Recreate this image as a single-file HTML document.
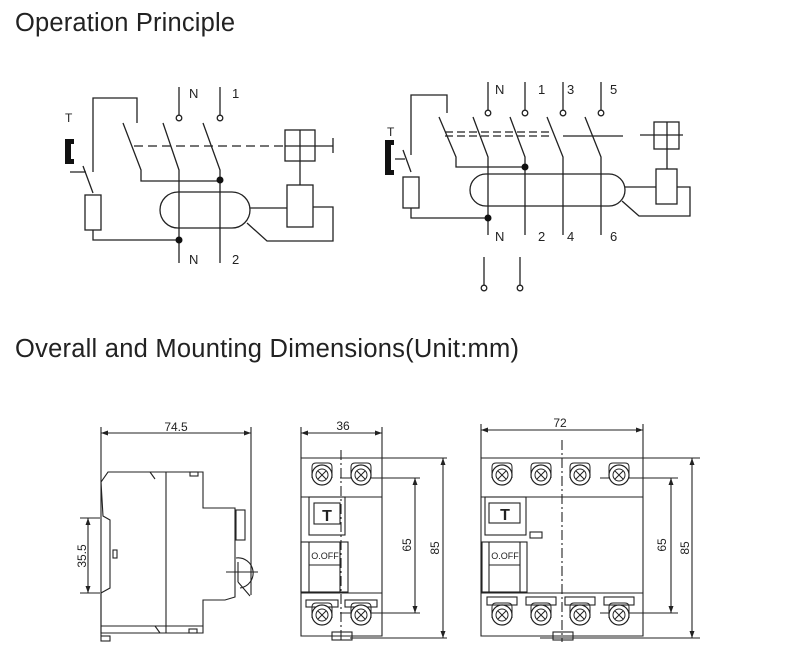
<!DOCTYPE html>
<html><head><meta charset="utf-8"><style>
html,body{margin:0;padding:0;background:#fff;}
svg{display:block;}
text{font-family:"Liberation Sans",sans-serif;fill:#222;}
</style></head><body>
<svg width="791" height="662" viewBox="0 0 791 662" xmlns="http://www.w3.org/2000/svg">
<defs>
<g id="scr"><path d="M-10,3V-8Q-10,-12 -6,-12H6Q10,-12 10,-8V3" fill="none" stroke="#222" stroke-width="1"/><circle r="10" fill="#fff" stroke="#222" stroke-width="1.2"/><circle r="6" fill="none" stroke="#222" stroke-width="1"/><path d="M-4,-4L4,4M-4,4L4,-4" stroke="#222" stroke-width="1"/></g>
<g id="term"><path d="M0,0V28" stroke="#222" stroke-width="1.3"/><circle cx="0" cy="31" r="2.8" fill="#fff" stroke="#222" stroke-width="1.3"/></g>
</defs>
<text x="15" y="31" font-size="25.5" fill="#333" textLength="220">Operation Principle</text>
<text x="15" y="357" font-size="25.5" fill="#333" textLength="504">Overall and Mounting Dimensions(Unit:mm)</text>

<!-- Circuit 1 -->
<g fill="none" stroke="#222" stroke-width="1.3">
<path d="M93,172V98H137V123"/>
<path d="M70,172H86M83,166L93,193"/>
<rect x="85" y="195" width="16" height="35"/>
<path d="M93,230V240H179"/>
<path d="M123,123L141,170V181H220"/>
<path d="M163,123L179,170V263"/>
<path d="M203,123L220,170V263"/>
<path d="M134,146H285" stroke-dasharray="9,5"/>
<rect x="285" y="130" width="30" height="31"/>
<path d="M300,130V185M285,146H333M333,138V153"/>
<rect x="287" y="185" width="26" height="42"/>
<path d="M178,192H232A18,18 0 0 1 232,228H178A18,18 0 0 1 178,192Z"/>
<path d="M250,208H287M313,207H333V241H267L247,223"/>
</g>
<path d="M65,139H74V144H71V159H74V164H65Z" fill="#111"/>
<text x="65" y="122" font-size="12">T</text>
<circle cx="220" cy="180" r="3.5" fill="#111"/><circle cx="179" cy="240" r="3.5" fill="#111"/>
<use href="#term" x="179" y="87"/><use href="#term" x="220" y="87"/>
<text x="189" y="98" font-size="13">N</text><text x="232" y="98" font-size="13">1</text>
<text x="189" y="264" font-size="13">N</text><text x="232" y="264" font-size="13">2</text>

<!-- Circuit 2 -->
<g fill="none" stroke="#222" stroke-width="1.3">
<path d="M411,155V95H447V113"/>
<path d="M395,159H405M403,150L411,172"/>
<rect x="403" y="177" width="16" height="31"/>
<path d="M411,208V218H488"/>
<path d="M439,117L456,157V167H525"/>
<path d="M473,117L488,157V235"/>
<path d="M510,117L525,157V235"/>
<path d="M547,117L563,157V235"/>
<path d="M585,117L601,157V235"/>
<path d="M445,132H553M445,136H553" stroke-dasharray="8,4"/>
<path d="M563,136H623M640,135H683"/>
<rect x="654" y="122" width="25" height="27"/>
<path d="M667,122V169"/>
<rect x="656" y="169" width="21" height="35"/>
<path d="M486,174H609A16,16 0 0 1 609,206H486A16,16 0 0 1 486,174Z"/>
<path d="M625,187H656M677,187H690V216H639L622,201"/>
</g>
<path d="M385,140H394V145H391V170H394V175H385Z" fill="#111"/>
<text x="387" y="136" font-size="12">T</text>
<circle cx="525" cy="167" r="3.5" fill="#111"/><circle cx="488" cy="218" r="3.5" fill="#111"/>
<use href="#term" x="488" y="82"/><use href="#term" x="525" y="82"/><use href="#term" x="563" y="82"/><use href="#term" x="601" y="82"/>
<text x="495" y="94" font-size="13">N</text><text x="538" y="94" font-size="13">1</text><text x="567" y="94" font-size="13">3</text><text x="610" y="94" font-size="13">5</text>
<text x="495" y="241" font-size="13">N</text><text x="538" y="241" font-size="13">2</text><text x="567" y="241" font-size="13">4</text><text x="610" y="241" font-size="13">6</text>
<use href="#term" x="484" y="257"/><use href="#term" x="520" y="257"/>

<!-- Side view -->
<g fill="none" stroke="#222" stroke-width="1.1">
<path d="M101,427V636M251,427V595M101,433H251"/>
<path d="M108,472H203V508H235V597L225,600H203V633H101V593L110,588V520L103,516L101,482Z"/>
<path d="M166,472V633M101,626H203M150,472L155,479M155,626L160,633"/>
<rect x="190" y="472" width="8" height="4"/><rect x="189" y="629" width="8" height="4"/>
<rect x="236" y="510" width="9" height="30"/>
<path d="M236,558A14,14 0 0 1 240,588M226,572H258M238,562V582M238,582L250,596"/>
<path d="M88,518V593M80,518H100M80,593H100"/>
<rect x="113" y="550" width="4" height="8"/><rect x="101" y="636" width="9" height="5"/>
</g>
<path d="M101,433l7,-2.5v5zM251,433l-7,-2.5v5zM88,518l-2.5,7h5zM88,593l-2.5,-7h5z" fill="#222"/>
<text x="176" y="431" font-size="12" text-anchor="middle">74.5</text>
<text transform="translate(86,556) rotate(-90)" font-size="12" text-anchor="middle">35.5</text>

<!-- Middle view -->
<g fill="none" stroke="#222" stroke-width="1.1">
<path d="M301,427V458M382,427V458M301,433H382"/>
<path d="M301,458H382V636H301Z"/>
<path d="M301,497H382M301,593H382"/>
<path d="M382,458H447M340,478H420M340,613H420M350,638H447"/>
<path d="M415,478V613M443,458V638"/>
<path d="M341,450V642" stroke-dasharray="10,3,2,3"/>
<rect x="309" y="497" width="36" height="38"/><rect x="314" y="503" width="26" height="21"/>
<rect x="301" y="542" width="47" height="50"/><path d="M309,542V592M340,542V592M309,565H340"/>
<rect x="306" y="600" width="32" height="7"/><rect x="345" y="600" width="32" height="7"/>
<rect x="332" y="632" width="20" height="8"/>
</g>
<use href="#scr" x="322" y="475"/><use href="#scr" x="361" y="475"/>
<use href="#scr" x="322" y="615"/><use href="#scr" x="361" y="615"/>
<path d="M301,433l7,-2.5v5zM382,433l-7,-2.5v5zM415,478l-2.5,7h5zM415,613l-2.5,-7h5zM443,458l-2.5,7h5zM443,638l-2.5,-7h5z" fill="#222"/>
<text x="343" y="430" font-size="12" text-anchor="middle">36</text>
<text x="327" y="521" font-size="16" font-weight="bold" text-anchor="middle">T</text>
<text x="325" y="559" font-size="9" text-anchor="middle">O.OFF</text>
<text transform="translate(411,545) rotate(-90)" font-size="12" text-anchor="middle">65</text>
<text transform="translate(439,548) rotate(-90)" font-size="12" text-anchor="middle">85</text>

<!-- Right view -->
<g fill="none" stroke="#222" stroke-width="1.1">
<path d="M481,424V458M643,424V458M481,430H643"/>
<path d="M481,458H643V636H481Z"/>
<path d="M481,497H643M481,593H643"/>
<path d="M643,458H700M600,478H678M600,613H678M540,638H700"/>
<path d="M671,478V613M692,458V638"/>
<path d="M562,440V642" stroke-dasharray="10,3,2,3"/>
<rect x="485" y="497" width="41" height="38"/><rect x="489" y="503" width="31" height="20"/>
<rect x="530" y="532" width="12" height="6"/>
<rect x="482" y="542" width="45" height="50"/><path d="M489,542V592M520,542V592M489,565H520"/>
<rect x="487" y="597" width="30" height="8"/><rect x="526" y="597" width="30" height="8"/><rect x="565" y="597" width="30" height="8"/><rect x="604" y="597" width="30" height="8"/>
<rect x="553" y="632" width="20" height="8"/>
</g>
<use href="#scr" x="502" y="475"/><use href="#scr" x="541" y="475"/><use href="#scr" x="580" y="475"/><use href="#scr" x="619" y="475"/>
<use href="#scr" x="502" y="615"/><use href="#scr" x="541" y="615"/><use href="#scr" x="580" y="615"/><use href="#scr" x="619" y="615"/>
<path d="M481,430l7,-2.5v5zM643,430l-7,-2.5v5zM671,478l-2.5,7h5zM671,613l-2.5,-7h5zM692,458l-2.5,7h5zM692,638l-2.5,-7h5z" fill="#222"/>
<text x="560" y="427" font-size="12" text-anchor="middle">72</text>
<text x="505" y="520" font-size="16" font-weight="bold" text-anchor="middle">T</text>
<text x="505" y="559" font-size="9" text-anchor="middle">O.OFF</text>
<text transform="translate(666,545) rotate(-90)" font-size="12" text-anchor="middle">65</text>
<text transform="translate(689,548) rotate(-90)" font-size="12" text-anchor="middle">85</text>
</svg>
</body></html>
